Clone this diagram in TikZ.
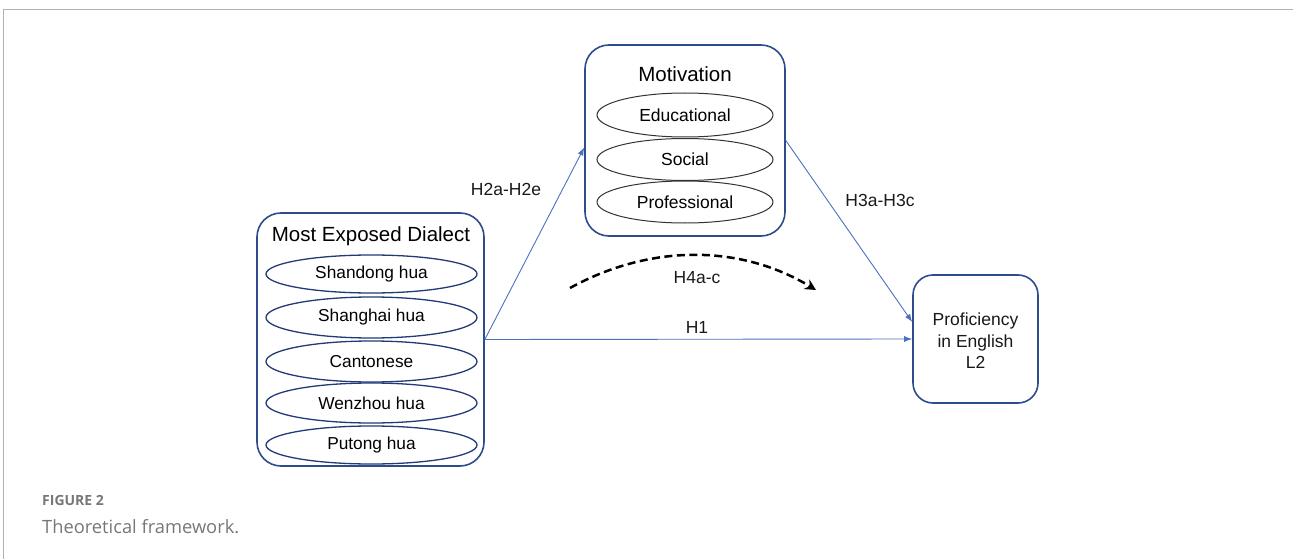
\documentclass[tikz,border=0pt]{standalone}
\usepackage{fontspec}
\setmainfont{Liberation Sans}
\newfontfamily\capfont{Open Sans}
\usetikzlibrary{arrows.meta,shapes.geometric}
\definecolor{boxblue}{HTML}{2E4C8C}
\definecolor{arrblue}{HTML}{4A72C0}
\definecolor{ellnavy}{HTML}{233A78}
\definecolor{capgray}{HTML}{777777}
\begin{document}
\begin{tikzpicture}[x=1pt,y=-1pt,
  bigbox/.style={draw=boxblue,line width=1.6pt,rounded corners=24pt,fill=white,inner sep=0pt},
  dell/.style={draw=ellnavy,line width=1.3pt,ellipse,minimum width=211pt,minimum height=38pt,inner sep=0pt,font=\fontsize{17.3}{20}\selectfont},
  mell/.style={draw=black!80,line width=1pt,ellipse,minimum width=176pt,minimum height=42pt,inner sep=0pt,font=\fontsize{17.5}{20}\selectfont},
  ttl/.style={font=\fontsize{20.5}{24}\selectfont,inner sep=0pt},
  lbl/.style={font=\fontsize{17.5}{20}\selectfont,inner sep=0pt,text=black!90},
  conn/.style={draw=arrblue,line width=0.9pt,-{Latex[length=8pt,width=6pt]}}
]
\useasboundingbox (0,0) rectangle (1293,559);
\draw[gray!60,line width=1pt] (3.5,559) -- (3.5,10) -- (1293,10);

% boxes
\node[bigbox,minimum width=227pt,minimum height=253pt] (dial) at (370.5,339.5) {};
\node[bigbox,minimum width=200pt,minimum height=191pt] (mot) at (685,140.5) {};
\node[bigbox,rounded corners=20pt,minimum width=125pt,minimum height=128pt] (prof) at (975.5,339) {};

% titles
\node[ttl] (dialt) at (371,236) {Most Exposed Dialect};
\node[ttl] (mott) at (685,74) {Motivation};
\node[lbl,align=center,font=\fontsize{17.5}{21.5}\selectfont] (proft) at (975.5,341) {Proficiency\\in English\\L2};

% dialect ellipses
\node[dell] (e1) at (371.5,274) {Shandong hua};
\node[dell,minimum height=41pt] (e2) at (371.5,317.5) {Shanghai hua};
\node[dell,minimum height=41pt] (e3) at (371.5,361.5) {Cantonese};
\node[dell,minimum height=40pt] (e4) at (371.5,403) {Wenzhou hua};
\node[dell] (e5) at (371.5,445) {Putong hua};

% motivation ellipses
\node[mell,minimum height=44pt] (m1) at (685,115) {Educational};
\node[mell] (m2) at (685,159.5) {Social};
\node[mell] (m3) at (685,202) {Professional};

% connectors
\draw[conn] (dial.east) -- ([yshift=-7pt]mot.west);
\draw[conn] (dial.east) -- (prof.west);
\draw[conn] (mot.east) -- ([yshift=17pt]prof.west);

% dashed curve
\coordinate (ds) at (570,288);
\coordinate (de) at (816,290);
\draw[black,line width=2.5pt,dash pattern=on 8pt off 4.5pt,-{Stealth[length=11pt,width=11pt]}] (ds) .. controls (650,244) and (740,244) .. (de);

% labels
\node[lbl] (h2) at (506,189) {H2a-H2e};
\node[lbl] (h3) at (880,200) {H3a-H3c};
\node[lbl] (h4) at (697,278) {H4a-c};
\node[lbl] (h1) at (697,327) {H1};

% caption
\node[anchor=west,inner sep=0pt,text=capgray,font=\capfont\bfseries\fontsize{14}{16}\selectfont] (fig) at (42,500) {FIGURE 2};
\node[anchor=west,inner sep=0pt,text=capgray,font=\capfont\fontsize{18.3}{22}\selectfont] (cap) at (42,527) {Theoretical framework.};
\end{tikzpicture}
\end{document}
